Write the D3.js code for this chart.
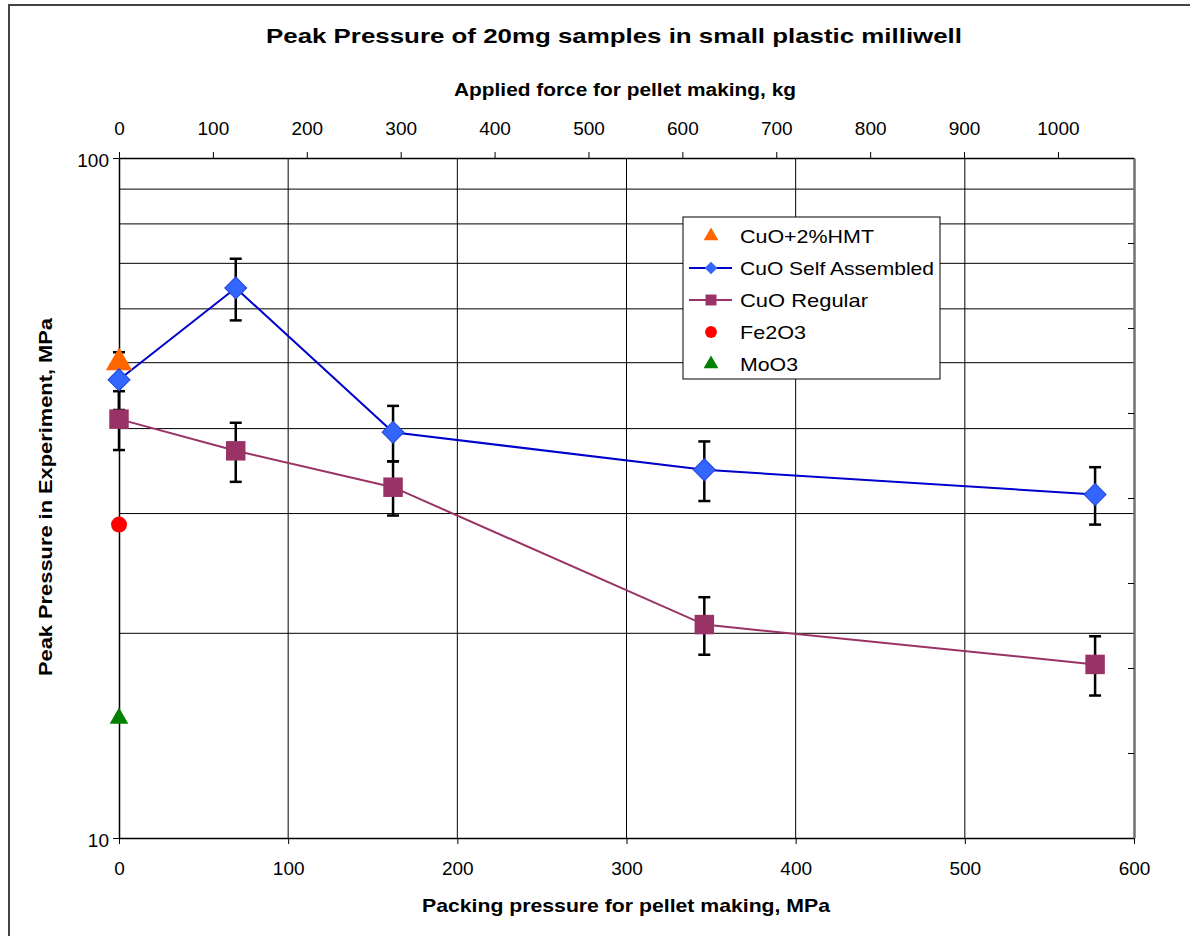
<!DOCTYPE html>
<html>
<head>
<meta charset="utf-8">
<script src="https://cdn.jsdelivr.net/npm/d3@7"></script>
<style>
  body { margin: 0; background: #fff; }
  svg { display: block; font-family: Arial, "Liberation Sans", sans-serif; }
</style>
</head>
<body>
<div id="chart"></div>
<script>
// data
var pressureMPa   = [0, 69, 162, 346, 577];
var selfAssembled = [47.2, 64.4, 39.5, 34.8, 32.0];
var selfAssembledErr = [4.6, 6.7, 3.7, 3.5, 3.1];
var regular    = [41.3, 37.1, 32.8, 20.6, 18.0];
var regularErr = [4.1, 3.7, 3.0, 2.0, 1.8];
var hmt   = [{x: 0, y: 50.0}];
var fe2o3 = [{x: 0, y: 28.9}];
var moo3  = [{x: 0, y: 15.0}];

var bottomTicks = [0, 100, 200, 300, 400, 500, 600];
var topTicks = [0, 100, 200, 300, 400, 500, 600, 700, 800, 900, 1000];
var gridY = [20, 30, 40, 50, 60, 70, 80, 90];

var W = 1190, H = 936;
var svg = d3.select("#chart").append("svg")
    .attr("width", W)
    .attr("height", H);

// outer chart frame (runs off the right/bottom edge)
svg.append("rect")
    .attr("x", 9).attr("y", 5)
    .attr("width", 1200).attr("height", 960)
    .attr("fill", "#fff")
    .attr("stroke", "#444")
    .attr("stroke-width", 2);

var x = d3.scaleLinear().domain([0, 600]).range([119, 1134]);
var xTop = d3.scaleLinear().domain([0, 1081]).range([119, 1134]);
var y = d3.scaleLog().domain([10, 100]).range([838, 158]);
var yRight = d3.scaleLinear().domain([0, 8]).range([838, 158]);

// grid
svg.append("g").selectAll("line")
    .data(gridY)
    .enter().append("line")
    .attr("x1", x(0)).attr("x2", x(600))
    .attr("y1", function(d) { return y(d); })
    .attr("y2", function(d) { return y(d); })
    .attr("stroke", "#000")
    .attr("stroke-width", 1);

svg.append("g").selectAll("line")
    .data(bottomTicks.slice(1, 6))
    .enter().append("line")
    .attr("x1", function(d) { return x(d); })
    .attr("x2", function(d) { return x(d); })
    .attr("y1", y(100)).attr("y2", y(10))
    .attr("stroke", "#000")
    .attr("stroke-width", 1);

// axes
var fontTick = "19px";

var gb = svg.append("g")
    .attr("transform", "translate(0," + y(10) + ")")
    .call(d3.axisBottom(x).tickValues(bottomTicks).tickSize(6).tickSizeOuter(0).tickPadding(18));
var gt = svg.append("g")
    .attr("transform", "translate(0," + y(100) + ")")
    .call(d3.axisTop(xTop).tickValues(topTicks).tickFormat(d3.format("d")).tickSize(6).tickSizeOuter(0).tickPadding(17));
var gl = svg.append("g")
    .attr("transform", "translate(" + x(0) + ",0)")
    .call(d3.axisLeft(y).tickValues([10, 100]).tickFormat(d3.format("d")).tickSize(6).tickSizeOuter(0).tickPadding(4));
var gr = svg.append("g")
    .attr("transform", "translate(" + x(600) + ",0)")
    .call(d3.axisRight(yRight).ticks(8).tickSize(-6).tickSizeOuter(0).tickFormat(""));

[gb, gt, gl].forEach(function(g) {
    g.selectAll("text").attr("font-size", fontTick).attr("font-family", "Arial, 'Liberation Sans', sans-serif").attr("fill", "#000");
    g.selectAll("line").attr("stroke", "#000");
    g.select(".domain").attr("stroke", "#000").attr("stroke-width", 1.5);
});
gl.selectAll("text").attr("dy", "0.45em");
gr.selectAll("line").attr("stroke", "#000");
gr.select(".domain").attr("stroke", "#707070").attr("stroke-width", 2.5);

// titles
svg.append("text")
    .attr("x", 614).attr("y", 43)
    .attr("text-anchor", "middle")
    .attr("font-size", "21px").attr("font-weight", "bold")
    .attr("textLength", 696).attr("lengthAdjust", "spacingAndGlyphs")
    .text("Peak Pressure of 20mg samples in small plastic milliwell");

svg.append("text")
    .attr("x", 625).attr("y", 96)
    .attr("text-anchor", "middle")
    .attr("font-size", "18px").attr("font-weight", "bold")
    .attr("textLength", 342).attr("lengthAdjust", "spacingAndGlyphs")
    .text("Applied force for pellet making, kg");

svg.append("text")
    .attr("x", 626).attr("y", 912)
    .attr("text-anchor", "middle")
    .attr("font-size", "19px").attr("font-weight", "bold")
    .attr("textLength", 408).attr("lengthAdjust", "spacingAndGlyphs")
    .text("Packing pressure for pellet making, MPa");

svg.append("text")
    .attr("transform", "translate(52,497) rotate(-90)")
    .attr("text-anchor", "middle")
    .attr("font-size", "18px").attr("font-weight", "bold")
    .attr("textLength", 358).attr("lengthAdjust", "spacingAndGlyphs")
    .text("Peak Pressure in Experiment, MPa");

// series
var selfData = pressureMPa.map(function(p, i) { return {x: p, y: selfAssembled[i], e: selfAssembledErr[i]}; });
var regData = pressureMPa.map(function(p, i) { return {x: p, y: regular[i], e: regularErr[i]}; });

var line = d3.line()
    .x(function(d) { return x(d.x); })
    .y(function(d) { return y(d.y); });

svg.append("path").datum(regData)
    .attr("d", line)
    .attr("fill", "none")
    .attr("stroke", "#993366")
    .attr("stroke-width", 2);

svg.append("path").datum(selfData)
    .attr("d", line)
    .attr("fill", "none")
    .attr("stroke", "#0000CC")
    .attr("stroke-width", 2);

function errorBars(data) {
    var g = svg.append("g").attr("stroke", "#000").attr("stroke-width", 2.5);
    data.forEach(function(d) {
        var cx = x(d.x), y1 = y(d.y + d.e), y2 = y(d.y - d.e);
        g.append("line").attr("x1", cx).attr("x2", cx).attr("y1", y1).attr("y2", y2);
        g.append("line").attr("x1", cx - 6).attr("x2", cx + 6).attr("y1", y1).attr("y2", y1);
        g.append("line").attr("x1", cx - 6).attr("x2", cx + 6).attr("y1", y2).attr("y2", y2);
    });
}
errorBars(regData);
errorBars(selfData);

function place(d) { return "translate(" + x(d.x) + "," + y(d.y) + ")"; }

// markers
svg.append("g").selectAll("path")
    .data(fe2o3).enter().append("path")
    .attr("transform", place)
    .attr("d", d3.symbol().type(d3.symbolCircle).size(200)())
    .attr("fill", "#FF0000");

svg.append("g").selectAll("path")
    .data(moo3).enter().append("path")
    .attr("transform", place)
    .attr("d", d3.symbol().type(d3.symbolTriangle).size(150)())
    .attr("fill", "#008000");

svg.append("g").selectAll("path")
    .data(hmt).enter().append("path")
    .attr("transform", place)
    .attr("d", d3.symbol().type(d3.symbolTriangle).size(300)())
    .attr("fill", "#FF6600");

svg.append("g").selectAll("path")
    .data(regData).enter().append("path")
    .attr("transform", place)
    .attr("d", d3.symbol().type(d3.symbolSquare).size(380)())
    .attr("fill", "#993366");

svg.append("g").selectAll("path")
    .data(selfData).enter().append("path")
    .attr("transform", function(d) { return place(d) + " rotate(45)"; })
    .attr("d", d3.symbol().type(d3.symbolSquare).size(240)())
    .attr("fill", "#3366FF")
    .attr("stroke", "#2244DD")
    .attr("stroke-width", 1);

// legend
var legendItems = [
    {name: "CuO+2%HMT", color: "#FF6600", shape: "triangle", line: false},
    {name: "CuO Self Assembled", color: "#3366FF", lineColor: "#0000CC", shape: "diamond", line: true},
    {name: "CuO Regular", color: "#993366", lineColor: "#993366", shape: "square", line: true},
    {name: "Fe2O3", color: "#FF0000", shape: "circle", line: false},
    {name: "MoO3", color: "#008000", shape: "triangle", line: false}
];
var legendWidths = [134, 194, 128, 66, 58];

var lg = svg.append("g").attr("transform", "translate(683,217)");
lg.append("rect")
    .attr("width", 257).attr("height", 162)
    .attr("fill", "#fff")
    .attr("stroke", "#000")
    .attr("stroke-width", 1);

var items = lg.selectAll("g.item")
    .data(legendItems)
    .enter().append("g")
    .attr("class", "item")
    .attr("transform", function(d, i) { return "translate(0," + (19 + i * 32) + ")"; });

items.filter(function(d) { return d.line; }).append("line")
    .attr("x1", 6).attr("x2", 49)
    .attr("stroke", function(d) { return d.lineColor; })
    .attr("stroke-width", 2);

items.append("path")
    .attr("transform", function(d) { return "translate(28,0)" + (d.shape === "diamond" ? " rotate(45)" : ""); })
    .attr("d", function(d) {
        var t = d.shape === "triangle" ? d3.symbolTriangle : d.shape === "circle" ? d3.symbolCircle : d3.symbolSquare;
        var s = d.shape === "diamond" ? 80 : d.shape === "square" ? 120 : d.shape === "circle" ? 110 : 95;
        return d3.symbol().type(t).size(s)();
    })
    .attr("fill", function(d) { return d.color; });

items.append("text")
    .attr("x", 57).attr("y", 7)
    .attr("font-size", "19px")
    .attr("textLength", function(d, i) { return legendWidths[i]; })
    .attr("lengthAdjust", "spacingAndGlyphs")
    .text(function(d) { return d.name; });
</script>
</body>
</html>
